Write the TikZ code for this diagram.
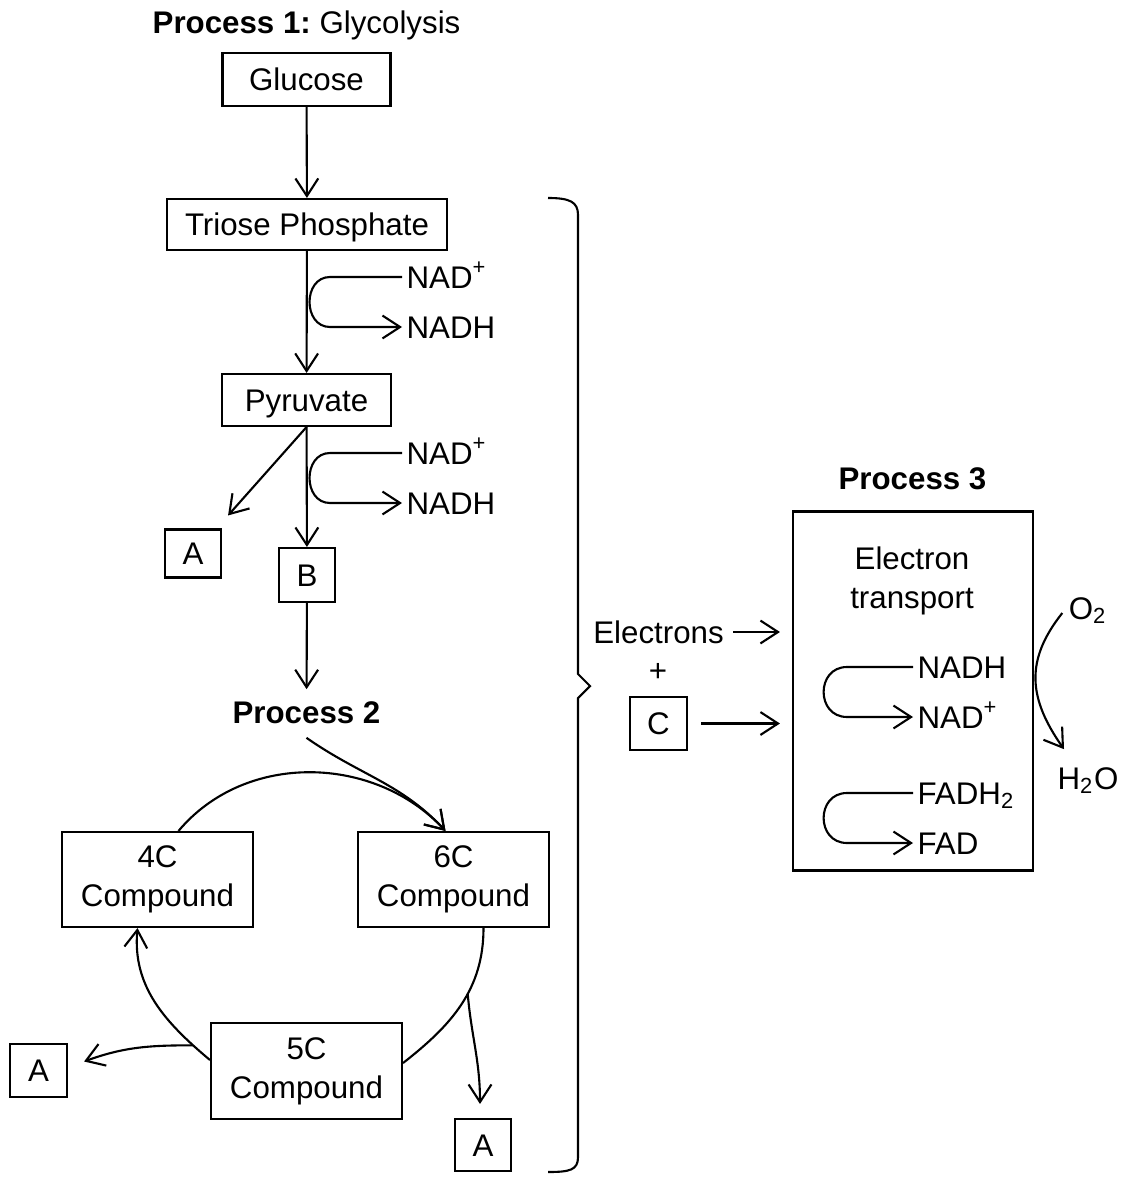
\documentclass[tikz,border=0pt]{standalone}
\usepackage{fontspec}
\setmainfont{Liberation Sans}
\usepackage{tikz}
\usetikzlibrary{arrows.meta}

\begin{document}
\begin{tikzpicture}[line width=0.6pt,>={Straight Barb[length=5pt,width=6.5pt]},font=\fontsize{8.9pt}{11.2pt}\selectfont]
		\tikzstyle{lbl}=[inner sep=1pt,text height=6.4pt,text depth=0pt]
		\tikzstyle{chem}=[lbl,anchor=west]
		\tikzstyle{box}=[draw,inner sep=0pt,text height=6.4pt,text depth=0pt]
		\tikzstyle{cbox}=[draw,inner sep=0pt,align=center,minimum width=1.91cm,minimum height=0.95cm]
		
		\useasboundingbox (0,0) rectangle (11.22,-11.78);
		
		% process 1
		\node[lbl](p1) at (3.065,-0.22){\textbf{Process 1:}\ Glycolysis};
		\node[box,minimum width=1.68cm,minimum height=0.53cm](glu) at (3.065,-0.795){Glucose};
		\node[box,minimum width=2.80cm,minimum height=0.51cm](tri) at (3.07,-2.245){Triose Phosphate};
		\node[box,minimum width=1.69cm,minimum height=0.52cm](pyr) at (3.065,-4.00){Pyruvate};
		\node[box,minimum width=0.56cm,minimum height=0.48cm](aTop) at (1.93,-5.535){A};
		\node[box,minimum width=0.56cm,minimum height=0.54cm](bBox) at (3.07,-5.75){B};
		
		\node[chem](nad1) at (4.02,-2.77){NAD\textsuperscript{+}};
		\node[chem](nadh1) at (4.02,-3.27){NADH};
		\node[chem](nad2) at (4.02,-4.53){NAD\textsuperscript{+}};
		\node[chem](nadh2) at (4.02,-5.03){NADH};
		
		% process 2
		\node[lbl](proc2) at (3.065,-7.12){\textbf{Process 2}};
		\node[cbox](c4) at (1.575,-8.795){4C\\Compound};
		\node[cbox](c6) at (4.535,-8.795){6C\\Compound};
		\node[cbox,minimum height=0.96cm](c5) at (3.065,-10.71){5C\\Compound};
		\node[box,minimum width=0.57cm,minimum height=0.53cm](aLeft) at (0.385,-10.705){A};
		\node[box,minimum width=0.56cm,minimum height=0.52cm](aBot) at (4.83,-11.45){A};
		
		% process 3
		\node[lbl](p3t) at (9.125,-4.78){\textbf{Process 3}};
		\node[draw,minimum width=2.40cm,minimum height=3.59cm](p3) at (9.13,-6.91){};
		\node[align=center,inner sep=0pt](et) at (9.12,-5.81){Electron\\transport};
		\node[lbl](elec) at (6.585,-6.32){Electrons};
		\node[lbl](plus) at (6.58,-6.70){+};
		\node[box,minimum width=0.57cm,minimum height=0.53cm](cBox) at (6.585,-7.235){C};
		
		\node[chem](nadh3) at (9.13,-6.67){NADH};
		\node[chem](nad3) at (9.13,-7.17){NAD\textsuperscript{+}};
		\node[chem](fadh) at (9.13,-7.93){FADH\textsubscript{2}};
		\node[chem](fad) at (9.13,-8.43){FAD};
		
		\node[lbl](o2) at (10.88,-6.08){O\textsubscript{2}};
		\node[lbl](h2o) at (10.88,-7.78){H\textsubscript{2}O};
		
		\draw[->] (glu) -- (tri);
		\draw[->] (tri) -- (pyr);
		\draw[->] (pyr) -- (bBox);
		\draw[->] (pyr.south) -- ([shift={(0.06,0.13)}]aTop.north east);
		\draw[->,shorten >=0.7mm] (bBox) -- (proc2);
		
		\draw[->] (nad1.west) -- ++(-0.72,0) to[out=180,in=180,looseness=1.4] ++(0,-0.5) -- (nadh1.west);
		\draw[->] (nad2.west) -- ++(-0.72,0) to[out=180,in=180,looseness=1.4] ++(0,-0.5) -- (nadh2.west);
		
		\draw[->] ([xshift=2.1mm]c4.north) to[out=50,in=133] ([xshift=-0.8mm]c6.north);
		\draw[->] ([yshift=-1mm]proc2.south) to[out=-35,in=133] ([xshift=-0.8mm]c6.north);
		\draw ([xshift=3mm]c6.south) to[out=-90,in=38] coordinate[pos=0.42](br) ([yshift=0.8mm]c5.east);
		\draw[->] (br) to[out=-85,in=90] ([shift={(-0.03,0.14)}]aBot.north);
		\draw[->] ([yshift=1.1mm]c5.west) to[out=140,in=-95] coordinate[pos=0.13](bl) ([xshift=-2mm]c4.south);
		\draw[->] (bl) to[out=180,in=20] ([shift={(0.16,0.09)}]aLeft.east);
		
		\draw[->,shorten <=0.5mm,shorten >=1.2mm] (elec.east) -- (elec.east -| p3.west);
		\draw[->,shorten <=1.3mm,shorten >=1.2mm] (cBox.east) -- (cBox.east -| p3.west);
		
		\draw[->] (nadh3.west) -- ++(-0.66,0) to[out=180,in=180,looseness=1.6] ++(0,-0.5) -- (nad3.west);
		\draw[->] (fadh.west) -- ++(-0.66,0) to[out=180,in=180,looseness=1.6] ++(0,-0.5) -- (fad.west);
		
		\draw[->] ([shift={(-0.02,-0.05)}]o2.west) .. controls (10.25,-6.60) and (10.28,-6.98) .. ([shift={(-0.24,0.13)}]h2o.north);
		
		% brace
		\draw (5.48,-1.98) .. controls (5.70,-1.98) and (5.78,-2.02) .. (5.78,-2.15) -- (5.78,-6.74) -- (5.90,-6.86) -- (5.78,-6.98) -- (5.78,-11.57) .. controls (5.78,-11.70) and (5.70,-11.72) .. (5.48,-11.72);
\end{tikzpicture}
\end{document}
